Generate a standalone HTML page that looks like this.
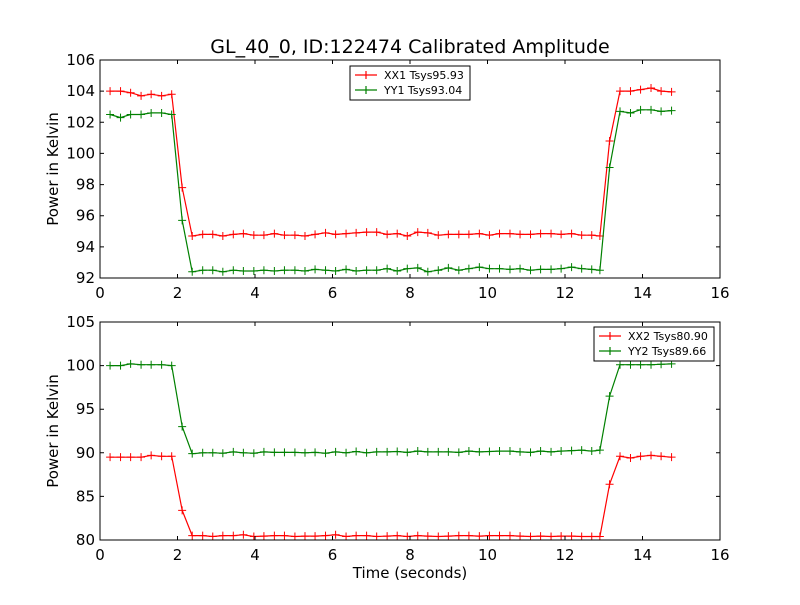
<!DOCTYPE html>
<html><head><meta charset="utf-8"><style>
html,body{margin:0;padding:0;background:#fff;}
svg text{font-family:"DejaVu Sans","Liberation Sans",sans-serif;}
</style></head><body>
<svg id="c" width="800" height="600" viewBox="0 0 800 600" xmlns="http://www.w3.org/2000/svg"></svg>
<script>
const times=[0.26,0.53,0.79,1.06,1.32,1.59,1.85,2.12,2.38,2.65,2.91,3.17,3.44,3.70,3.97,4.23,4.50,4.76,5.03,5.29,5.55,5.82,6.08,6.35,6.61,6.88,7.14,7.41,7.67,7.93,8.20,8.46,8.73,8.99,9.26,9.52,9.79,10.05,10.31,10.58,10.84,11.11,11.37,11.64,11.90,12.17,12.43,12.69,12.90,13.15,13.42,13.69,13.95,14.22,14.48,14.75];
const xx1=[104.0,104.0,103.9,103.7,103.8,103.7,103.8,97.8,94.7,94.8,94.8,94.7,94.8,94.85,94.75,94.75,94.85,94.75,94.75,94.7,94.8,94.9,94.8,94.85,94.9,94.95,94.95,94.8,94.85,94.7,94.95,94.9,94.75,94.8,94.8,94.8,94.85,94.75,94.85,94.85,94.8,94.8,94.85,94.85,94.8,94.85,94.75,94.75,94.7,100.8,104.0,104.0,104.1,104.2,104.0,103.95];
const yy1=[102.5,102.3,102.5,102.5,102.6,102.6,102.5,95.7,92.4,92.5,92.5,92.4,92.5,92.45,92.45,92.5,92.45,92.5,92.5,92.45,92.55,92.5,92.45,92.55,92.45,92.5,92.5,92.6,92.45,92.6,92.65,92.4,92.5,92.65,92.5,92.6,92.7,92.6,92.6,92.55,92.6,92.5,92.55,92.55,92.6,92.7,92.6,92.55,92.5,99.1,102.7,102.6,102.8,102.8,102.7,102.75];
const xx2=[89.5,89.5,89.5,89.5,89.7,89.6,89.6,83.4,80.5,80.5,80.4,80.5,80.5,80.6,80.4,80.45,80.5,80.5,80.4,80.45,80.45,80.5,80.6,80.4,80.5,80.5,80.4,80.45,80.5,80.4,80.5,80.45,80.4,80.45,80.5,80.5,80.45,80.5,80.5,80.5,80.45,80.4,80.45,80.4,80.45,80.45,80.4,80.4,80.4,86.4,89.6,89.4,89.6,89.7,89.6,89.5];
const yy2=[100.0,100.0,100.2,100.1,100.1,100.1,100.0,93.0,89.9,90.0,90.0,89.95,90.1,90.0,89.95,90.1,90.05,90.05,90.05,90.0,90.05,89.95,90.1,90.0,90.15,90.0,90.1,90.1,90.15,90.05,90.2,90.1,90.1,90.1,90.05,90.2,90.1,90.15,90.2,90.2,90.1,90.05,90.2,90.1,90.2,90.25,90.3,90.2,90.3,96.5,100.1,100.1,100.1,100.1,100.15,100.2];
const xTicks=[0,2,4,6,8,10,12,14,16];
const yTicksTop=[92,94,96,98,100,102,104,106];
const yTicksBot=[80,85,90,95,100,105];

const NS="http://www.w3.org/2000/svg";
const svg=document.getElementById('c');
function mk(tag,attrs,parent,text){const e=document.createElementNS(NS,tag);for(const k in attrs)e.setAttribute(k,attrs[k]);if(text!==undefined)e.textContent=text;(parent||svg).appendChild(e);return e;}

function panel(p){
  const g=mk('g',{});
  
  
  const L=100,R=720,T=p.top,B=p.top+218;
  const sx=v=>L+(v-0)/(16-0)*(R-L);
  const sy=v=>B-(v-p.ymin)/(p.ymax-p.ymin)*(B-T);
  mk('rect',{x:L,y:T,width:R-L,height:B-T,fill:'#fff'},g);
  p.series.forEach(s=>{
    const sg=mk('g',{},g);
    
    
    const d=s.vals.map((v,i)=>(i?'L':'M')+sx(times[i]).toFixed(1)+' '+sy(v).toFixed(1)).join(' ');
    mk('path',{d:d,fill:'none',stroke:s.color,'stroke-width':1.2},sg);
    s.vals.forEach((v,i)=>{const x=sx(times[i]),y=sy(v);
      mk('path',{d:`M${x-4} ${y}H${x+4}M${x} ${y-4}V${y+4}`,stroke:s.color,'stroke-width':1},sg);});
  });
  mk('rect',{x:L,y:T,width:R-L,height:B-T,fill:'none',stroke:'#000','stroke-width':1},g);
  xTicks.forEach(t=>{const x=sx(t);
    mk('path',{d:`M${x} ${B}V${B-4}M${x} ${T}V${T+4}`,stroke:'#000'},g);
    const tx=mk('text',{x:x,y:B+20,'font-size':15,'text-anchor':'middle'},g,String(t));
    
    
  });
  p.yt.forEach(t=>{const y=sy(t);
    mk('path',{d:`M${L} ${y}H${L+4}M${R} ${y}H${R-4}`,stroke:'#000'},g);
    const ty=mk('text',{x:L-5,y:y+5,'font-size':15,'text-anchor':'end'},g,String(t));
    
    
  });
  const yl=mk('text',{x:0,y:0,'font-size':15,'text-anchor':'middle',transform:`translate(58 ${(T+B)/2}) rotate(-90)`},g,'Power in Kelvin');
  
  
  const lg=mk('g',{},g);
  
  
  mk('rect',{x:p.lx,y:p.ly,width:120,height:34,fill:'#fff',stroke:'#000'},lg);
  p.series.forEach((s,i)=>{const y=p.ly+9+i*15;
    mk('path',{d:`M${p.lx+5} ${y}H${p.lx+27}M${p.lx+16} ${y-4}V${y+4}`,stroke:s.color,'stroke-width':1.2},lg);
    const t=mk('text',{x:p.lx+34,y:y+4,'font-size':11},lg,s.label);
    
    
  });
}
panel({name:'top-panel',top:60,ymin:92,ymax:106,yt:yTicksTop,lx:350,ly:66,
  series:[{label:'XX1 Tsys95.93',vals:xx1,color:'#ff0000'},{label:'YY1 Tsys93.04',vals:yy1,color:'#008000'}]});
panel({name:'bottom-panel',top:322,ymin:80,ymax:105,yt:yTicksBot,lx:594,ly:327,
  series:[{label:'XX2 Tsys80.90',vals:xx2,color:'#ff0000'},{label:'YY2 Tsys89.66',vals:yy2,color:'#008000'}]});
const title=mk('text',{x:410,y:53,'font-size':19,'text-anchor':'middle'},svg,'GL_40_0, ID:122474 Calibrated Amplitude');


const xt=mk('text',{x:410,y:578,'font-size':15,'text-anchor':'middle'},svg,'Time (seconds)');


</script>
</body></html>
